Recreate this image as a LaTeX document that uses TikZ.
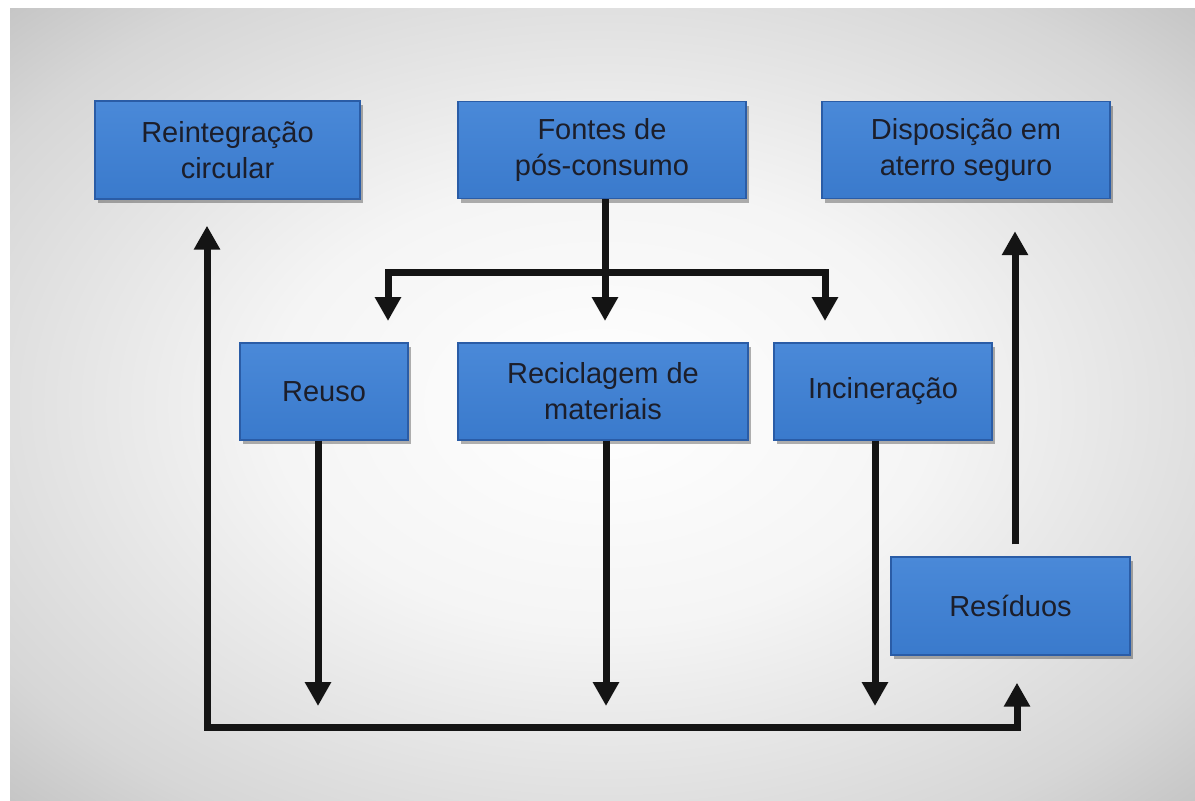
\documentclass[tikz,border=0pt]{standalone}
\usepackage{fontspec}
\setmainfont{Liberation Sans}
\usetikzlibrary{arrows.meta,shadows}
\definecolor{boxblue}{HTML}{3A7ACC}
\definecolor{boxtop}{HTML}{4A89D8}
\definecolor{boxedge}{HTML}{2A5CA6}
\definecolor{ink}{HTML}{1C1E2A}
% soft light-centred backdrop
\pgfdeclareradialshading{backdrop}{\pgfpoint{0bp}{0bp}}{%
  color(0bp)=(white); color(14bp)=(white!96!black); color(30bp)=(black!16);
  color(50bp)=(black!40)}
\begin{document}
\begin{tikzpicture}[x=1pt,y=-1pt,
  stepbox/.style={rectangle, draw=boxedge, line width=1.4pt,
    top color=boxtop, bottom color=boxblue,
    drop shadow={shadow xshift=3pt, shadow yshift=-4pt, fill=black, opacity=0.3},
    text=ink, align=center, inner sep=0pt,
    font=\fontsize{29}{36}\selectfont},
  link/.style={line width=7pt, draw=black!92, line join=miter},
  arrow/.style={link, -{Triangle[width=25pt,length=24pt]}},
  twoway/.style={link, {Triangle[width=25pt,length=24pt]}-{Triangle[width=25pt,length=24pt]}}]

% page and shaded backdrop
\useasboundingbox (0,0) rectangle (1195,801);
\fill[white] (0,0) rectangle (1195,801);
\shade[shading=backdrop] (10,8) rectangle (1195,801);

% boxes
\node[stepbox, minimum width=265pt, minimum height=98pt] (circ) at (227.5,150) {Reintegração\\circular};
\node[stepbox, minimum width=288pt, minimum height=97pt] (fontes) at (602,150) {Fontes de\\pós-consumo};
\node[stepbox, minimum width=288pt, minimum height=97pt] (disp) at (966,150) {Disposição em\\aterro seguro};
\node[stepbox, minimum width=168pt, minimum height=97pt] (reuso) at (324,391.5) {Reuso};
\node[stepbox, minimum width=290pt, minimum height=97pt] (recic) at (603,391.5) {Reciclagem de\\materiais};
\node[stepbox, minimum width=218pt, minimum height=97pt] (incin) at (883,391.5) {Incineração};
\node[stepbox, minimum width=239pt, minimum height=98pt] (resid) at (1010.5,606) {Resíduos};

% split below the source box
\coordinate (split) at (605,272);
\coordinate (ta) at (388,321);
\coordinate (tb) at (605,321);
\coordinate (tc) at (825,321);
\draw[link] (fontes.south -| split) -- (split);
\draw[arrow] (split) -| (ta);
\draw[arrow] (split) -- (tb);
\draw[arrow] (split) -| (tc);

% drops from the three treatments
\coordinate (da) at (318,706);
\coordinate (db) at (606,706);
\coordinate (dc) at (875,706);
\draw[arrow] (reuso.south -| da) -- (da);
\draw[arrow] (recic.south -| db) -- (db);
\draw[arrow] (incin.south -| dc) -- (dc);

% return loop along the bottom
\coordinate (bl) at (207,727);
\coordinate (br) at (1017,727);
\draw[twoway, shorten <=26pt, shorten >=27pt] (circ.south -| bl) -- (bl) -- (br) -- (resid.south -| br);

% residues up to landfill
\coordinate (up) at (1015,0);
\draw[arrow, shorten <=12pt, shorten >=32pt] (resid.north -| up) -- (disp.south -| up);
\end{tikzpicture}
\end{document}
